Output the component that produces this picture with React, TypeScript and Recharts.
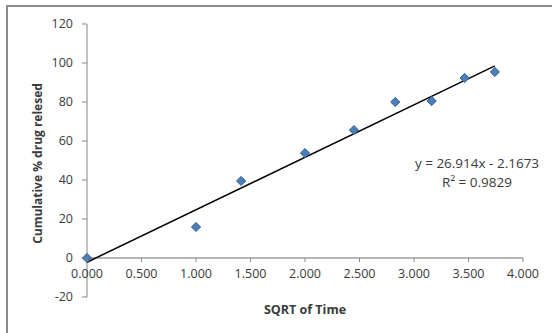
import React from 'react';
import { ScatterChart, Scatter, XAxis, YAxis, ReferenceLine, ReferenceDot } from 'recharts';

// ---- data ----
const sqrtTime = [0, 1.0, 1.414, 2.0, 2.449, 2.828, 3.162, 3.464, 3.742];
const drugReleased = [0, 15.9, 39.5, 53.8, 65.6, 80.0, 80.5, 92.3, 95.4];
const xTicks = [0, 0.5, 1, 1.5, 2, 2.5, 3, 3.5, 4];
const yTicks = [-20, 0, 20, 40, 60, 80, 100, 120];
const trendSlope = 26.914;
const trendIntercept = -2.1673;
const trendRange = [0, 3.742];
const equationText = 'y = 26.914x - 2.1673';
const rSquaredText = 'R\u00B2 = 0.9829';
const equationAnchor = { x: 3.578, y: 44 };

const points = sqrtTime.map((x, i) => ({ x, y: drugReleased[i] }));
const trend = trendRange.map((x) => ({ x, y: trendSlope * x + trendIntercept }));

// ---- layout ----
const W = 552;
const H = 333;
const MARGIN = { top: 24, right: 29, bottom: 6, left: 27 };
const YAXIS_W = 60;
const XAXIS_H = 30;
const PLOT_H = H - MARGIN.top - MARGIN.bottom - XAXIS_H;
const Y_MIN = -20;
const Y_MAX = 120;
const zeroOffset = ((0 - Y_MIN) / (Y_MAX - Y_MIN)) * PLOT_H;

const FONT = '"Open Sans", "Liberation Sans", sans-serif';
const TEXT = '#3a3a3a';
const AXIS = '#868686';

const XTick = (props: any) => {
  const { x, y, payload } = props;
  const ay = y - zeroOffset;
  return (
    <g>
      <line x1={x} x2={x} y1={ay} y2={ay + 4} stroke={AXIS} strokeWidth={1} />
      <text x={x} y={ay + 15} textAnchor="middle" dominantBaseline="central" fontSize={12.5} fontFamily={FONT} fill={TEXT}>
        {Number(payload.value).toFixed(3)}
      </text>
    </g>
  );
};

const Diamond = (props: any) => {
  const { cx, cy } = props;
  const r = 4.6;
  return (
    <path
      d={`M${cx},${cy - r}L${cx + r},${cy}L${cx},${cy + r}L${cx - r},${cy}Z`}
      fill="#4A7EBB"
      stroke="#385D8A"
      strokeWidth={1}
    />
  );
};

const Nothing = () => <g />;

const EquationLabel = (props: any) => {
  const vb = props.viewBox || {};
  const cx = (vb.x || 0) + (vb.width || 0) / 2;
  const cy = (vb.y || 0) + (vb.height || 0) / 2;
  return (
    <g fontFamily={FONT} fontSize={13.5} fill={TEXT} textAnchor="middle">
      <text x={cx} y={cy - 9} dominantBaseline="central">{equationText}</text>
      <text x={cx} y={cy + 10} dominantBaseline="central">{rSquaredText}</text>
    </g>
  );
};

const YTitle = (props: any) => {
  const vb = props.viewBox || {};
  const x = vb.x + 10;
  const y = vb.y + vb.height / 2 + 3;
  return (
    <text
      x={x}
      y={y}
      transform={`rotate(-90, ${x}, ${y})`}
      textAnchor="middle"
      dominantBaseline="central"
      fontFamily={FONT}
      fontWeight="bold"
      fontSize={12}
      fill={TEXT}
    >
      Cumulative % drug relesed
    </text>
  );
};

const XTitle = (props: any) => {
  const vb = props.viewBox || {};
  const x = vb.x + vb.width / 2;
  const y = vb.y + 12;
  return (
    <text x={x} y={y} textAnchor="middle" dominantBaseline="central" fontFamily={FONT} fontWeight="bold" fontSize={12.5} fill={TEXT}>
      SQRT of Time
    </text>
  );
};

export default function App() {
  return (
    <div style={{ position: 'absolute', left: 0, top: 0, width: W, height: H, background: '#fff', overflow: 'hidden' }}>
      <div
        style={{
          position: 'absolute',
          left: 6,
          top: 5,
          width: W,
          height: H,
          borderLeft: '2px solid #8c8c8c',
          borderTop: '2px solid #8c8c8c',
          boxSizing: 'border-box',
        }}
      />
      <div style={{ position: 'absolute', left: 0, top: 0 }}>
        <ScatterChart width={W} height={H} margin={MARGIN}>
          <XAxis
            type="number"
            dataKey="x"
            domain={[0, 4]}
            ticks={xTicks}
            axisLine={false}
            tickLine={false}
            tickSize={0}
            tickMargin={0}
            height={XAXIS_H}
            tick={<XTick />}
            interval={0}
            label={<XTitle />}
          />
          <YAxis
            type="number"
            dataKey="y"
            domain={[Y_MIN, Y_MAX]}
            ticks={yTicks}
            width={YAXIS_W}
            axisLine={{ stroke: AXIS, strokeWidth: 1 }}
            tickLine={{ stroke: AXIS, strokeWidth: 1 }}
            tickSize={5}
            tickMargin={9}
            interval={0}
            tick={{ fontSize: 12.5, fontFamily: FONT, fill: TEXT }}
            label={<YTitle />}
          />
          <ReferenceLine y={0} stroke="#6e6e6e" strokeWidth={1.2} />
          <Scatter
            data={trend}
            line={{ stroke: '#000', strokeWidth: 1.5 }}
            shape={<Nothing />}
            isAnimationActive={false}
            legendType="none"
          />
          <Scatter data={points} shape={<Diamond />} isAnimationActive={false} legendType="none" />
          <ReferenceDot
            x={equationAnchor.x}
            y={equationAnchor.y}
            r={1}
            fill="none"
            stroke="none"
            label={<EquationLabel />}
          />
        </ScatterChart>
      </div>
    </div>
  );
}
